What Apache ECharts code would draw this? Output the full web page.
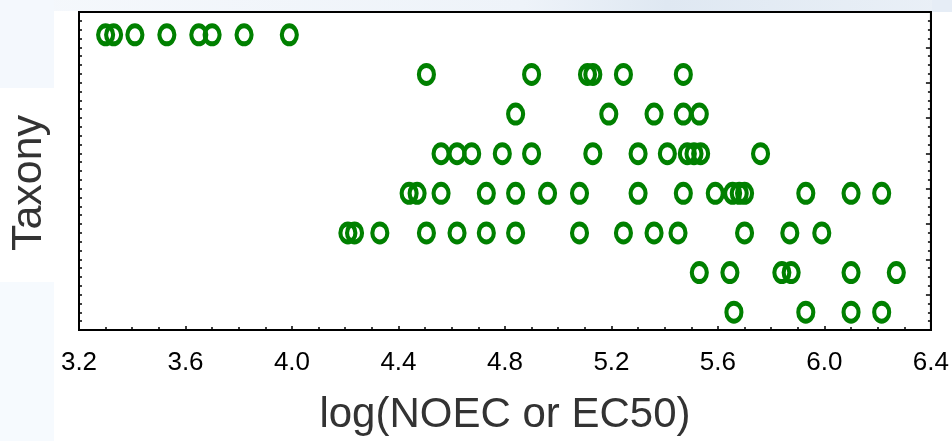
<!DOCTYPE html>
<html>
<head>
<meta charset="utf-8">
<script src="https://cdn.jsdelivr.net/npm/echarts@6/dist/echarts.min.js"></script>
<style>
html,body{margin:0;padding:0;background:#fff;}
#chart{width:952px;height:441px;}
</style>
</head>
<body>
<div id="chart"></div>
<script>
// Tick labels of the x axis
const xTicks = ['3.2','3.6','4.0','4.4','4.8','5.2','5.6','6.0','6.4'];
// Taxon rows (top to bottom), unlabeled in the source
const rows = [1, 2, 3, 4, 5, 6, 7, 8];
// log(NOEC or EC50) values per row
const row1 = [3.30, 3.33, 3.41, 3.53, 3.65, 3.70, 3.82, 3.99];
const row2 = [4.505, 4.90, 5.11, 5.13, 5.245, 5.47];
const row3 = [4.84, 5.19, 5.36, 5.47, 5.53];
const row4 = [4.56, 4.62, 4.675, 4.79, 4.90, 5.13, 5.30, 5.41, 5.485, 5.51, 5.535, 5.76];
const row5 = [4.44, 4.47, 4.56, 4.73, 4.84, 4.96, 5.08, 5.30, 5.47, 5.59, 5.655, 5.68, 5.70, 5.93, 6.10, 6.215];
const row6 = [4.21, 4.235, 4.33, 4.505, 4.62, 4.73, 4.84, 5.08, 5.245, 5.36, 5.45, 5.70, 5.87, 5.99];
const row7 = [5.53, 5.645, 5.84, 5.875, 6.10, 6.27];
const row8 = [5.66, 5.93, 6.10, 6.215];

const allRows = [row1, row2, row3, row4, row5, row6, row7, row8];
const points = [];
allRows.forEach((vals, i) => vals.forEach(v => points.push([v, rows[i]])));

const chart = echarts.init(document.getElementById('chart'), null, {renderer: 'canvas'});

const yMin = 0.425, yMax = 8.45;

chart.setOption({
  animation: false,
  backgroundColor: '#ffffff',
  graphic: [
    {type: 'rect', z: -10, shape: {x: 0, y: 0, width: 952, height: 11},
     style: {fill: new echarts.graphic.LinearGradient(0, 0, 1, 0, [
       {offset: 0, color: '#f5f8fc'}, {offset: 0.55, color: '#eef3f9'},
       {offset: 0.7, color: '#dfe8f2'}, {offset: 1, color: '#eaf0f7'}])}},
    {type: 'rect', z: -10, shape: {x: 0, y: 0, width: 54, height: 88}, style: {fill: '#f4f8fd'}},
    {type: 'rect', z: -10, shape: {x: 0, y: 282, width: 54, height: 159}, style: {fill: '#f6fafe'}},
    {type: 'rect', z: -10, shape: {x: 932, y: 0, width: 20, height: 12}, style: {fill: '#e6edf6'}},
    {type: 'text', x: 29, y: 183, rotation: Math.PI / 2, z: 10,
     style: {text: 'Taxony', fontFamily: 'Liberation Sans', fontSize: 43, fill: '#333',
             align: 'center', verticalAlign: 'middle'}}
  ],
  grid: {left: 79, right: 20, top: 12, bottom: 108, show: true, borderColor: '#000', borderWidth: 2, backgroundColor: '#fff'},
  xAxis: {
    type: 'value', min: 3.2, max: 6.4, interval: 0.4,
    name: 'log(NOEC or EC50)', nameLocation: 'middle', nameGap: 64,
    nameTextStyle: {fontFamily: 'Liberation Sans', fontSize: 42, color: '#333'},
    axisLine: {show: true, onZero: false, lineStyle: {color: '#000', width: 2}},
    axisTick: {show: true, inside: true, length: 4, lineStyle: {color: '#000', width: 1.5}},
    minorTick: {show: true, splitNumber: 4, length: 3, lineStyle: {color: '#000', width: 1.5}},
    splitLine: {show: false},
    axisLabel: {fontFamily: 'Liberation Sans', fontSize: 26, color: '#000', margin: 20,
      formatter: v => Number(v).toFixed(1)}
  },
  yAxis: [
    {
      type: 'value', inverse: true, min: yMin, max: yMax, interval: (yMax - yMin) / 36,
      position: 'left',
      axisLine: {show: true, lineStyle: {color: '#000', width: 2}},
      axisTick: {show: true, inside: true, length: 3, lineStyle: {color: '#000', width: 1.5}},
      axisLabel: {show: false}, splitLine: {show: false}
    },
    {
      type: 'value', min: 0, max: 9, interval: 1, position: 'right',
      axisLine: {show: true, lineStyle: {color: '#000', width: 2}},
      axisTick: {show: true, inside: true, length: 5, lineStyle: {color: '#000', width: 1.5}},
      minorTick: {show: true, splitNumber: 4, length: 3, lineStyle: {color: '#000', width: 1.5}},
      axisLabel: {show: false}, splitLine: {show: false}
    }
  ],
  series: [{
    type: 'scatter',
    yAxisIndex: 0,
    data: points,
    symbol: 'circle',
    symbolSize: [15, 18],
    itemStyle: {color: 'rgba(0,0,0,0)', borderColor: '#008000', borderWidth: 4.5, opacity: 1},
    emphasis: {disabled: true}
  }]
});
</script>
</body>
</html>
